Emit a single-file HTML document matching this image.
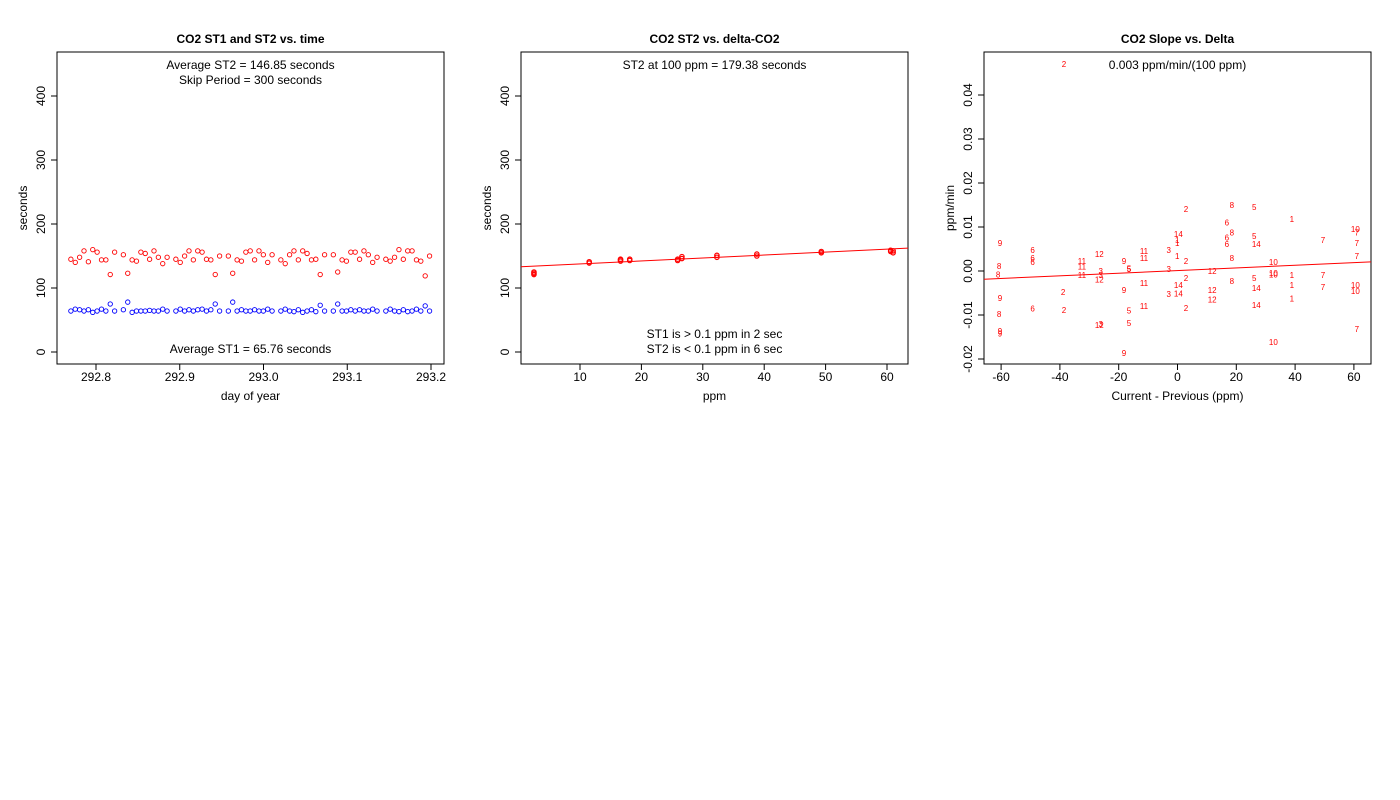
<!DOCTYPE html>
<html><head><meta charset="utf-8"><style>
body{margin:0;background:#fff;}
svg{display:block;font-family:"Liberation Sans",sans-serif;}
</style></head><body>
<svg id="c" width="1400" height="800"></svg>
<script>
// Panel 1 data
const p1Start = 292.770, p1Step = 0.005223;
const p1Slots = [0,1,2,3,4,5,6,7,8,9,10,12,13,14,15,16,17,18,19,20,21,22,24,25,26,27,28,29,30,31,32,33,34,36,37,38,39,40,41,42,43,44,45,46,48,49,50,51,52,53,54,55,56,57,58,60,61,62,63,64,65,66,67,68,69,70,72,73,74,75,76,77,78,79,80,81,82];
const p1ST2 = [145,140,148,158,141,160,156,144,144,121,156,152,123,144,142,156,154,145,158,148,138,148,145,140,150,158,144,158,156,145,144,121,150,150,123,144,142,156,158,144,158,152,140,152,144,138,152,158,144,158,154,144,145,121,152,152,125,144,142,156,156,145,158,152,140,148,145,142,148,160,145,158,158,144,142,119,150];
const p1ST1 = [64,67,66,64,66,62,64,67,64,75,64,66,78,62,64,64,64,65,64,64,67,64,64,67,64,66,64,66,67,64,66,75,64,64,78,64,66,64,64,66,64,64,67,64,64,67,64,63,66,62,64,66,63,73,64,64,75,64,64,66,64,66,64,64,67,64,64,67,64,63,66,63,64,67,64,72,64];
// Panel 2 data
const p2X = [2.5,2.5,2.5,11.5,11.5,16.6,16.6,16.6,18.1,18.1,25.9,25.9,26.6,26.6,32.3,32.3,38.8,38.8,49.3,49.3,60.6,60.6,61,61];
const p2Y = [121,123,125,139,141,142,144,145,143,145,143,145,146,149,148,151,150,153,155,157,157,159,155,158];
const p2Intercept = 133, p2Slope = 0.463;
// Panel 3 data
const p3Labels = ["9","6","6","6","8","8","12","11","11","11","9","11","11","3","5","5","3","3","12","3","11","2","9","9","3","6","2","8","5","11","12","3","5","9","9","9","2","2","8","5","6","1","14","1","1","8","5","6","6","14","7","10","7","7","1","2","8","7","10","12","10","10","1","7","2","8","5","14","14","1","7","10","10","14","12","12","1","2","14","7","10"];
const p3X = [-60.4,-49.3,-49.3,-49.3,-60.7,-61,-26.6,-32.5,-32.5,-32.5,-18.2,-11.4,-11.4,-3,-16.5,-16.5,-26.1,-26.1,-26.6,-3,-11.4,-38.9,-60.4,-18.2,-3,-49.3,-38.6,-60.7,-16.5,-11.4,-26.6,-26.1,-16.5,-60.4,-60.4,-18.2,-38.6,2.9,18.5,26.1,16.8,38.9,0.3,-0.1,-0.1,18.5,26.1,16.8,16.8,26.8,49.5,60.5,61,61,-0.1,2.9,18.5,61,32.6,11.8,32.6,32.6,38.9,49.5,2.9,18.5,26.1,0.3,0.3,38.9,49.5,60.5,60.5,26.8,11.8,11.8,38.9,2.9,26.8,61,32.6];
const p3Y = [0.0064,0.0048,0.0030,0.0020,0.0011,-0.0008,0.0039,0.0023,0.0010,-0.0009,0.0023,0.0045,0.0029,0.0048,0.0006,0.0004,0,-0.0009,-0.0019,0.0005,-0.0027,-0.0048,-0.0061,-0.0043,-0.0052,-0.0085,-0.0089,-0.0098,-0.0090,-0.0080,-0.0123,-0.0121,-0.0118,-0.0136,-0.0142,-0.0186,0.0470,0.0141,0.0150,0.0146,0.0110,0.0118,0.0084,0.0070,0.0064,0.0088,0.0080,0.0076,0.0061,0.0061,0.0070,0.0096,0.0087,0.0064,0.0034,0.0023,0.0030,0.0034,0.0020,0,-0.0005,-0.0008,-0.0009,-0.0009,-0.0016,-0.0023,-0.0016,-0.0032,-0.0051,-0.0032,-0.0036,-0.0032,-0.0045,-0.0039,-0.0043,-0.0065,-0.0062,-0.0084,-0.0077,-0.0132,-0.0161];
const p3Intercept = 0.0001, p3Slope = 0.00003;
const p1XTicks = [292.8,292.9,293.0,293.1,293.2];
const p2XTicks = [10,20,30,40,50,60];
const p3XTicks = [-60,-40,-20,0,20,40,60];
const secTicks = [0,100,200,300,400];
const p3YTicks = [-0.02,-0.01,0,0.01,0.02,0.03,0.04];

const svg = document.getElementById('c');
const NS = 'http://www.w3.org/2000/svg';
function el(tag, attrs, parent){const e=document.createElementNS(NS,tag);for(const k in attrs)e.setAttribute(k,attrs[k]);(parent||svg).appendChild(e);return e;}
function txt(s,x,y,opt,parent){const t=el('text',Object.assign({x:x,y:y,'text-anchor':'middle','font-size':12,fill:'#000'},opt||{}),parent);t.textContent=s;return t;}

function panel(cfg){
  const g=el('g',{});
  
  
  const b=el('rect',{x:cfg.bx,y:52,width:387,height:312,fill:'none',stroke:'#000','stroke-width':1},g);
  
  
  const t=txt(cfg.title,cfg.bx+193.5,43,{'font-weight':'bold'},g);
  
  
  cfg.xt.forEach(v=>{const x=cfg.sx(v);el('line',{x1:x,x2:x,y1:364,y2:370,stroke:'#000'},g);
    const l=txt(cfg.xf(v),x,381,{},g);
    
    });
  el('line',{x1:cfg.sx(cfg.xt[0]),x2:cfg.sx(cfg.xt[cfg.xt.length-1]),y1:364,y2:364,stroke:'#000'},g);
  cfg.yt.forEach(v=>{const y=cfg.sy(v);el('line',{x1:cfg.bx,x2:cfg.bx-6,y1:y,y2:y,stroke:'#000'},g);
    const l=txt(cfg.yf(v),cfg.bx-12,y,{transform:`rotate(-90 ${cfg.bx-12} ${y})`},g);
    
    });
  el('line',{x1:cfg.bx,x2:cfg.bx,y1:cfg.sy(cfg.yt[0]),y2:cfg.sy(cfg.yt[cfg.yt.length-1]),stroke:'#000'},g);
  const xa=txt(cfg.xl,cfg.bx+193.5,400,{},g);
  
  
  const yx=cfg.bx-30;
  const ya=txt(cfg.yl,yx,208,{transform:`rotate(-90 ${yx} 208)`},g);
  
  
  (cfg.notes||[]).forEach(n=>{const a=txt(n[0],cfg.bx+193.5,n[1],{},g);
    
    });
  return g;
}
const secY = v=>352-v*0.64;
// Panel 1
const sx1=v=>96+(v-292.8)*837.5;
const g1=panel({name:'panel-st-vs-time',bx:57,title:'CO2 ST1 and ST2 vs. time',sx:sx1,sy:secY,xt:p1XTicks,yt:secTicks,xf:v=>v.toFixed(1),yf:v=>String(v),xl:'day of year',yl:'seconds',
  notes:[['Average ST2 =  146.85  seconds',69],['Skip Period =  300  seconds',84],['Average ST1 =  65.76  seconds',353]]});
p1Slots.forEach((s,i)=>{const x=sx1(p1Start+s*p1Step);
  const r=el('circle',{cx:x,cy:secY(p1ST2[i]),r:2.2,fill:'none',stroke:'#f00','stroke-width':0.9},g1);
  
  
  const b=el('circle',{cx:x,cy:secY(p1ST1[i]),r:2.2,fill:'none',stroke:'#00f','stroke-width':0.9},g1);
  
  });
// Panel 2
const sx2=v=>518.6+v*6.14;
const g2=panel({name:'panel-st2-vs-delta',bx:521,title:'CO2 ST2 vs. delta-CO2',sx:sx2,sy:secY,xt:p2XTicks,yt:secTicks,xf:v=>String(v),yf:v=>String(v),xl:'ppm',yl:'seconds',
  notes:[['ST2 at 100 ppm =  179.38  seconds',69],['ST1 is > 0.1 ppm in 2 sec',338],['ST2 is < 0.1 ppm in 6 sec',353]]});
const fit2=el('line',{x1:521,x2:908,y1:secY(p2Intercept+p2Slope*(521-518.6)/6.14),y2:secY(p2Intercept+p2Slope*(908-518.6)/6.14),stroke:'#f00','stroke-width':1},g2);


p2X.forEach((v,i)=>{const c=el('circle',{cx:sx2(v),cy:secY(p2Y[i]),r:2.2,fill:'none',stroke:'#f00','stroke-width':1.2},g2);
  
  });
// Panel 3
const sx3=v=>1177.5+v*2.94, sy3=v=>271-v*4400;
const g3=panel({name:'panel-slope-vs-delta',bx:984,title:'CO2 Slope vs. Delta',sx:sx3,sy:sy3,xt:p3XTicks,yt:p3YTicks,xf:v=>String(v),yf:v=>v.toFixed(2),xl:'Current - Previous (ppm)',yl:'ppm/min',
  notes:[['0.003  ppm/min/(100 ppm)',69]]});
const fit3=el('line',{x1:984,x2:1371,y1:sy3(p3Intercept+p3Slope*(984-1177.5)/2.94),y2:sy3(p3Intercept+p3Slope*(1371-1177.5)/2.94),stroke:'#f00','stroke-width':1},g3);


p3Labels.forEach((s,i)=>{const t=txt(s,sx3(p3X[i]),sy3(p3Y[i])+3,{'font-size':8,fill:'#f00'},g3);
  
  });
</script>
</body></html>
